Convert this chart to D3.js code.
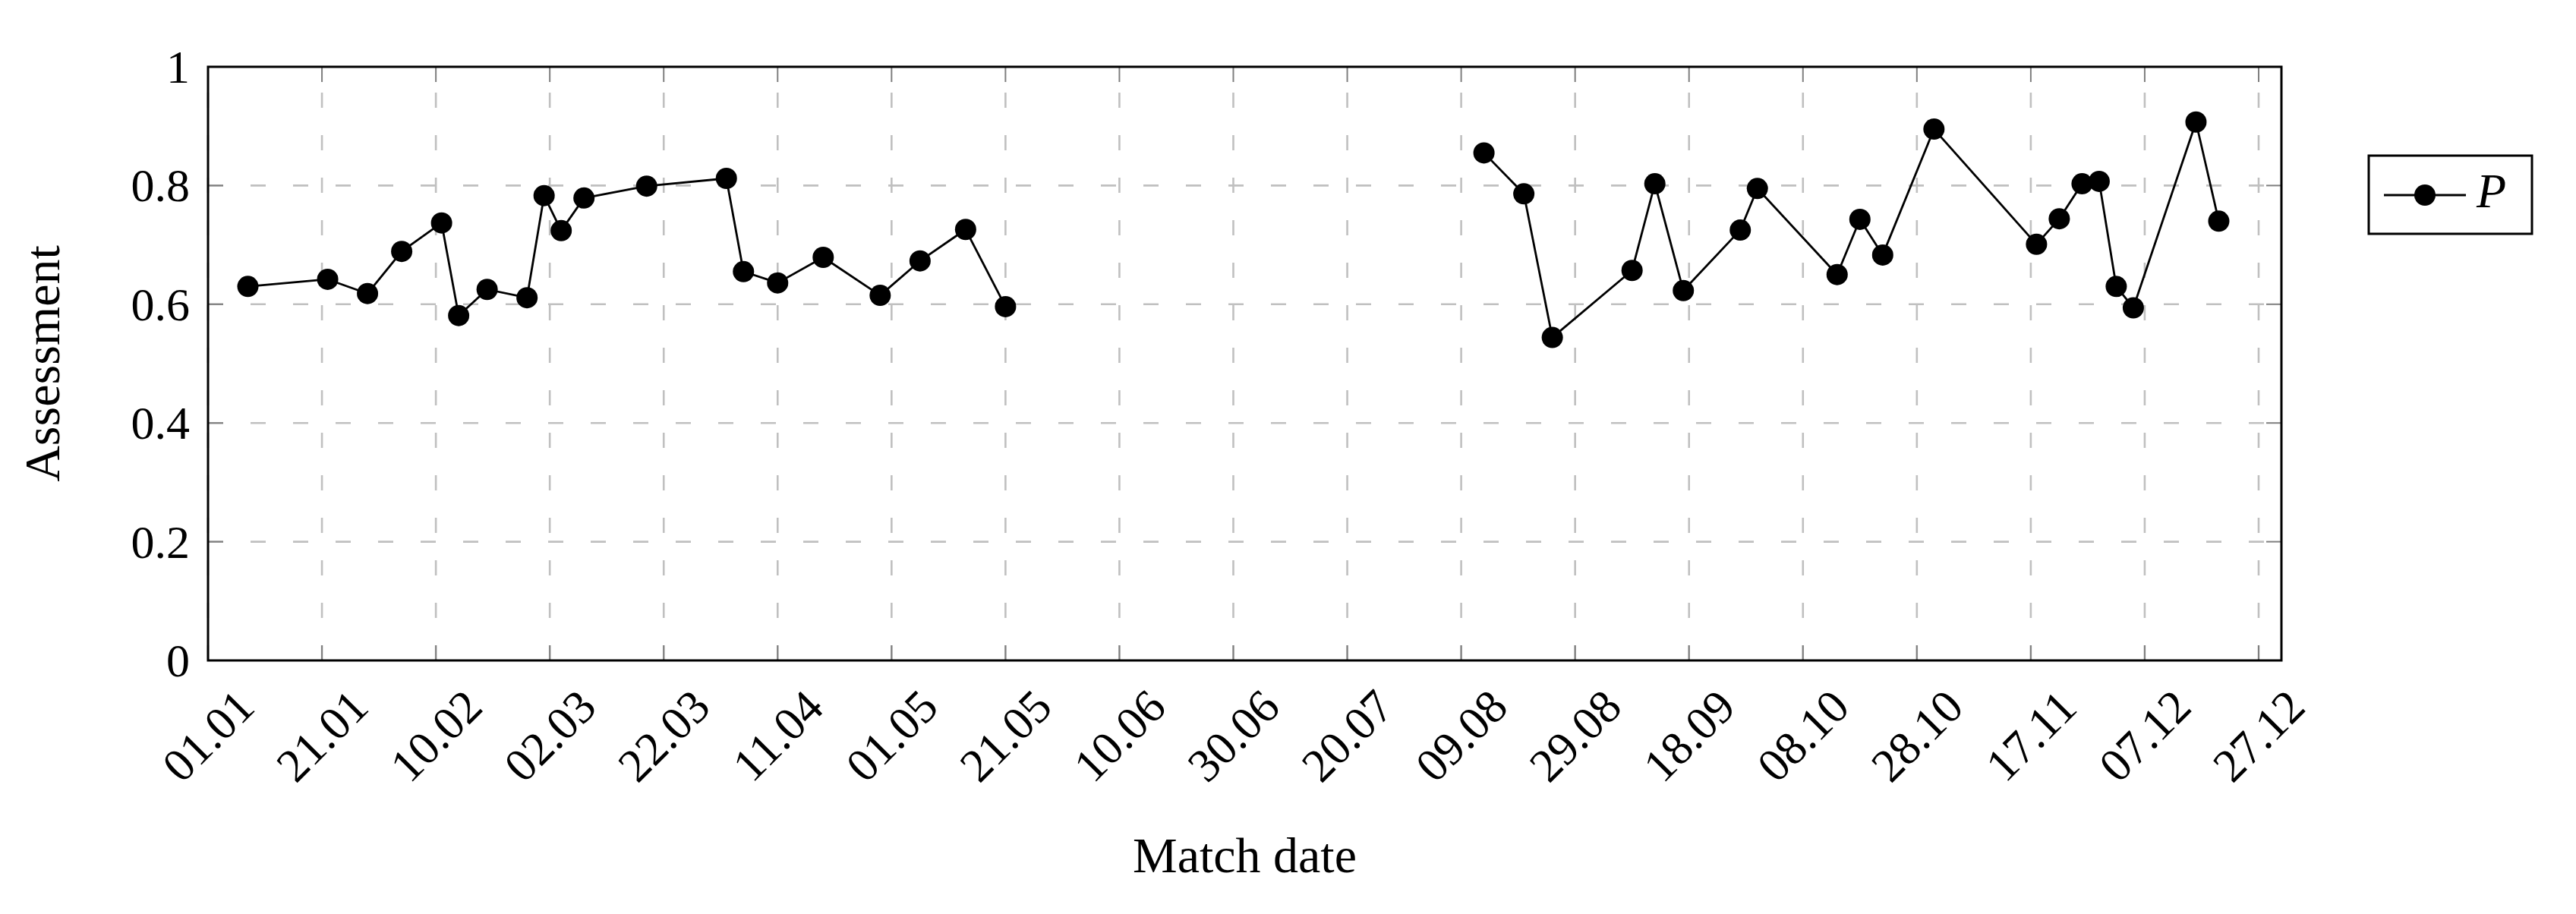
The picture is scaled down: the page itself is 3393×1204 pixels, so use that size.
<!DOCTYPE html>
<html>
<head>
<meta charset="utf-8">
<script src="https://cdn.jsdelivr.net/npm/d3@7"></script>
<style>
  html, body { margin: 0; padding: 0; background: #fff; }
  svg { display: block; }
  text { font-family: "Liberation Serif", "Times New Roman", serif; fill: #000; }
</style>
</head>
<body>
<svg id="chart" width="3393" height="1204"></svg>
<script>
// ---- data ----
const dates = [
  "2019-01-08","2019-01-22","2019-01-29","2019-02-04","2019-02-11","2019-02-14","2019-02-19","2019-02-26",
  "2019-03-01","2019-03-04","2019-03-08","2019-03-19","2019-04-02","2019-04-05","2019-04-11","2019-04-19",
  "2019-04-29","2019-05-06","2019-05-14","2019-05-21",
  null,
  "2019-08-13","2019-08-20","2019-08-25","2019-09-08","2019-09-12","2019-09-17","2019-09-27","2019-09-30",
  "2019-10-14","2019-10-18","2019-10-22","2019-10-31","2019-11-18","2019-11-22","2019-11-26","2019-11-29",
  "2019-12-02","2019-12-05","2019-12-16","2019-12-20"
];
const values = [
  0.630,0.642,0.618,0.689,0.737,0.581,0.625,0.611,
  0.783,0.724,0.779,0.799,0.812,0.655,0.636,0.679,
  0.615,0.673,0.726,0.596,
  null,
  0.855,0.786,0.544,0.657,0.803,0.623,0.725,0.795,
  0.650,0.743,0.683,0.895,0.701,0.744,0.803,0.807,
  0.630,0.594,0.907,0.740
];
const xTickLabels = ["01.01","21.01","10.02","02.03","22.03","11.04","01.05","21.05","10.06","30.06",
  "20.07","09.08","29.08","18.09","08.10","28.10","17.11","07.12","27.12"];
const yTicks = [0, 0.2, 0.4, 0.6, 0.8, 1];
const seriesName = "P";
const xTitle = "Match date";
const yTitle = "Assessment";

// ---- layout ----
const L = 274, R = 3005, T = 88, B = 870;
const svg = d3.select("#chart");
const parse = d3.utcParse("%Y-%m-%d");
const x = d3.scaleUtc().domain([parse("2019-01-01"), parse("2019-12-31")]).range([L, R]);
const y = d3.scaleLinear().domain([0, 1]).range([B, T]);

const pts = dates.map((d, i) => d === null ? null : { date: parse(d), v: values[i] });
const tickDates = xTickLabels.map(s => {
  const [dd, mm] = s.split(".");
  return parse(`2019-${mm}-${dd}`);
});

// grid
const grid = svg.append("g");
grid.selectAll("line.gx").data(tickDates).join("line")
  .attr("x1", d => x(d)).attr("x2", d => x(d)).attr("y1", B).attr("y2", T)
  .attr("stroke", "#c0c0c0").attr("stroke-width", 2.6).attr("stroke-dasharray", "20,36");
grid.selectAll("line.gy").data(yTicks.filter(v => v > 0 && v < 1)).join("line")
  .attr("x1", L).attr("x2", R).attr("y1", d => y(d)).attr("y2", d => y(d))
  .attr("stroke", "#c0c0c0").attr("stroke-width", 2.6).attr("stroke-dasharray", "20,36");

// ticks (inside, on all four sides)
const tl = 20;
const ticks = svg.append("g").attr("stroke", "#7f7f7f").attr("stroke-width", 2);
tickDates.forEach(d => {
  ticks.append("line").attr("x1", x(d)).attr("x2", x(d)).attr("y1", B).attr("y2", B - tl);
  ticks.append("line").attr("x1", x(d)).attr("x2", x(d)).attr("y1", T).attr("y2", T + tl);
});
yTicks.forEach(v => {
  ticks.append("line").attr("x1", L).attr("x2", L + tl).attr("y1", y(v)).attr("y2", y(v));
  ticks.append("line").attr("x1", R).attr("x2", R - tl).attr("y1", y(v)).attr("y2", y(v));
});

// axis box
svg.append("rect").attr("x", L).attr("y", T).attr("width", R - L).attr("height", B - T)
  .attr("fill", "none").attr("stroke", "#000").attr("stroke-width", 3);

// y tick labels
svg.append("g").selectAll("text").data(yTicks).join("text")
  .attr("x", 250).attr("y", d => y(d)).attr("dy", "0.34em")
  .attr("text-anchor", "end").attr("font-size", 62)
  .text(d => d3.format("~g")(d));

// x tick labels (rotated 45°)
svg.append("g").selectAll("text").data(tickDates).join("text")
  .attr("transform", (d) => `translate(${x(d)},969) rotate(-45)`)
  .attr("dy", "0.34em").attr("text-anchor", "middle").attr("font-size", 62)
  .text((d, i) => xTickLabels[i]);

// axis titles
svg.append("text").attr("x", (L + R) / 2).attr("y", 1149)
  .attr("text-anchor", "middle").attr("font-size", 66).text(xTitle);
svg.append("text").attr("transform", `translate(78,${(T + B) / 2}) rotate(-90)`)
  .attr("text-anchor", "middle").attr("font-size", 66).text(yTitle);

// series line
const line = d3.line().defined(d => d !== null).x(d => x(d.date)).y(d => y(d.v));
svg.append("path").datum(pts).attr("d", line)
  .attr("fill", "none").attr("stroke", "#000").attr("stroke-width", 2.8).attr("stroke-linejoin", "round");
svg.append("g").selectAll("circle").data(pts.filter(p => p !== null)).join("circle")
  .attr("cx", d => x(d.date)).attr("cy", d => y(d.v)).attr("r", 14).attr("fill", "#000");

// legend
const lg = svg.append("g");
lg.append("rect").attr("x", 3120).attr("y", 205).attr("width", 215).attr("height", 103)
  .attr("fill", "#fff").attr("stroke", "#000").attr("stroke-width", 3);
lg.append("line").attr("x1", 3140).attr("x2", 3248).attr("y1", 257).attr("y2", 257)
  .attr("stroke", "#000").attr("stroke-width", 2.8);
lg.append("circle").attr("cx", 3194).attr("cy", 257).attr("r", 14).attr("fill", "#000");
lg.append("text").attr("x", 3262).attr("y", 273).attr("font-size", 64)
  .attr("font-style", "italic").text(seriesName);
</script>
</body>
</html>
